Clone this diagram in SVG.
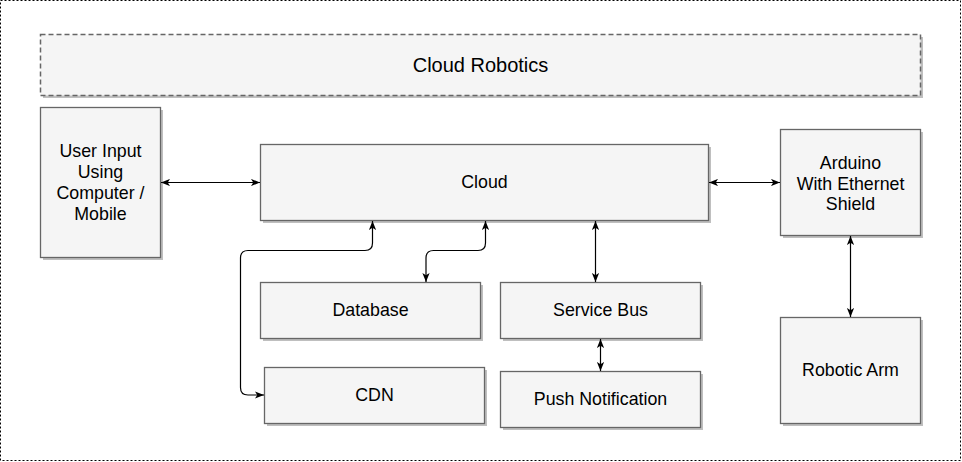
<svg xmlns="http://www.w3.org/2000/svg" width="962" height="462" viewBox="0 0 962 462">
<style>
.box{fill:#f5f5f5;stroke:#666666;stroke-width:1.3}
.sh{fill:#bfbfbf}
.t{font-family:"Liberation Sans",Arial,sans-serif;font-size:17.8px;fill:#000;text-anchor:middle}
.c{fill:none;stroke:#000;stroke-width:1.2}
</style>
<defs>
<marker id="a" viewBox="0 0 10 8" refX="10" refY="4" markerWidth="9" markerHeight="7.5" markerUnits="userSpaceOnUse" orient="auto-start-reverse">
<path d="M0,0 L10,4 L0,8 L2.5,4 z" fill="#000"/>
</marker>
</defs>
<rect x="0.5" y="0.5" width="960" height="460" fill="#fff" stroke="#000" stroke-width="1" stroke-dasharray="2 2"/>

<g id="header">
<rect class="sh" x="43" y="37" width="880" height="61"/>
<rect x="40.5" y="34.5" width="880" height="61" fill="#f5f5f5" stroke="#666" stroke-width="1.5" stroke-dasharray="5 3"/>
<text class="t" x="480.5" y="72" style="font-size:20px">Cloud Robotics</text>
</g>

<g id="user">
<rect class="sh" x="43" y="110" width="120" height="150"/>
<rect class="box" x="40.5" y="107.5" width="120" height="150"/>
<text class="t" x="100.5" y="157">User Input</text>
<text class="t" x="100.5" y="178">Using</text>
<text class="t" x="100.5" y="199">Computer /</text>
<text class="t" x="100.5" y="220">Mobile</text>
</g>

<g id="cloud">
<rect class="sh" x="263" y="147" width="448" height="76"/>
<rect class="box" x="260.5" y="144.5" width="448" height="76"/>
<text class="t" x="484.5" y="188">Cloud</text>
</g>

<g id="arduino">
<rect class="sh" x="783" y="132" width="140" height="106"/>
<rect class="box" x="780.5" y="129.5" width="140" height="106"/>
<text class="t" x="850.5" y="169">Arduino</text>
<text class="t" x="850.5" y="189.5">With Ethernet</text>
<text class="t" x="850.5" y="210">Shield</text>
</g>

<g id="database">
<rect class="sh" x="263" y="285" width="220" height="56"/>
<rect class="box" x="260.5" y="282.5" width="220" height="56"/>
<text class="t" x="370.5" y="316">Database</text>
</g>

<g id="servicebus">
<rect class="sh" x="503" y="285" width="200" height="56"/>
<rect class="box" x="500.5" y="282.5" width="200" height="56"/>
<text class="t" x="600.5" y="316">Service Bus</text>
</g>

<g id="cdn">
<rect class="sh" x="267" y="370" width="220" height="56"/>
<rect class="box" x="264.5" y="367.5" width="220" height="56"/>
<text class="t" x="374.5" y="401">CDN</text>
</g>

<g id="push">
<rect class="sh" x="503" y="374" width="200" height="56"/>
<rect class="box" x="500.5" y="371.5" width="200" height="56"/>
<text class="t" x="600.5" y="405">Push Notification</text>
</g>

<g id="robotic">
<rect class="sh" x="783" y="320" width="140" height="106"/>
<rect class="box" x="780.5" y="317.5" width="140" height="106"/>
<text class="t" x="850.5" y="376">Robotic Arm</text>
</g>

<g id="connectors">
<path class="c" d="M161,182.5 H260" marker-start="url(#a)" marker-end="url(#a)"/>
<path class="c" d="M709,182.5 H780" marker-start="url(#a)" marker-end="url(#a)"/>
<path class="c" d="M372.5,221 V243 Q372.5,250.5 365,250.5 H248 Q240.5,250.5 240.5,258 V387.5 Q240.5,395 248,395 H264" marker-start="url(#a)" marker-end="url(#a)"/>
<path class="c" d="M485.5,221 V243 Q485.5,250.5 478,250.5 H433.5 Q426,250.5 426,258 V282" marker-start="url(#a)" marker-end="url(#a)"/>
<path class="c" d="M595.5,221 V282" marker-start="url(#a)" marker-end="url(#a)"/>
<path class="c" d="M600.5,339 V371" marker-start="url(#a)" marker-end="url(#a)"/>
<path class="c" d="M850.5,236 V317" marker-start="url(#a)" marker-end="url(#a)"/>
</g>
</svg>
